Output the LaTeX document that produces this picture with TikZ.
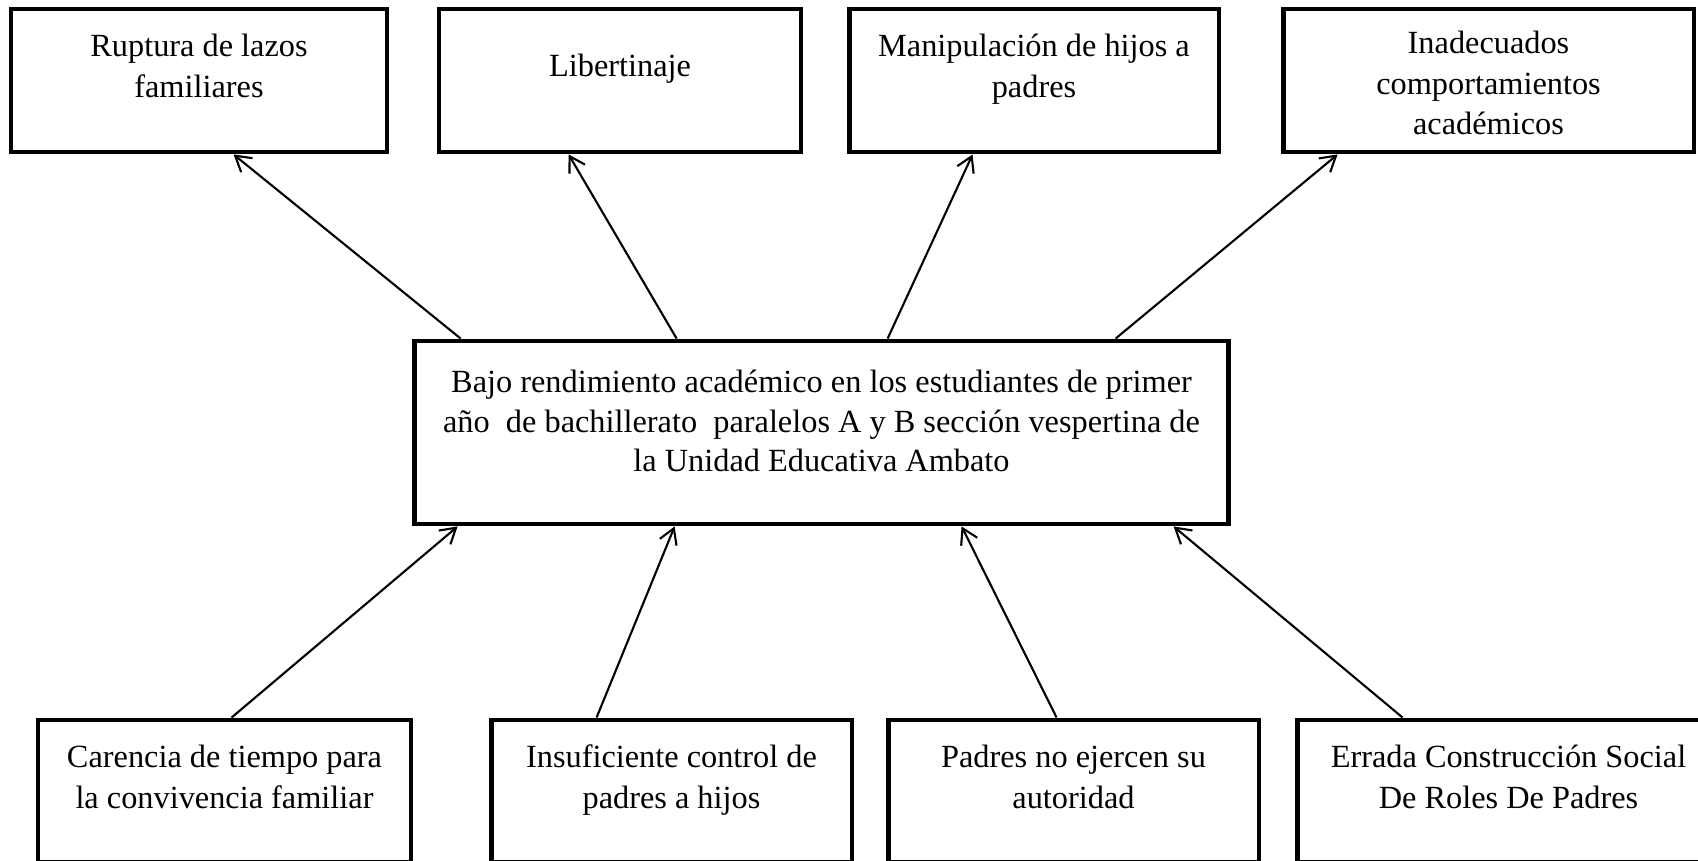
\documentclass[tikz,border=0pt]{standalone}
\usepackage{fontspec}
\setmainfont{Liberation Serif}
\usetikzlibrary{positioning}
\usetikzlibrary{calc}
\usetikzlibrary{arrows.meta}

\tikzset{
	caja/.style={draw, line width=2.8pt, inner sep=0pt, minimum height=2.86cm},
	texto/.style={anchor=north, align=center, inner sep=0pt, font=\fontsize{18.4}{23.2}\selectfont, yshift=-0.54cm},
	flecha/.style={line width=1.2pt, -{Straight Barb[length=0.3cm, width=0.36cm]}}
}

\begin{document}
\begin{tikzpicture}[x=0.02cm, y=-0.02cm]
		\useasboundingbox (0,0) rectangle (1698,861);
		% problema central
		\node [caja, minimum width=16.3cm, minimum height=3.66cm, label={[texto, yshift=-0.08cm, font=\fontsize{18.4}{22.6}\selectfont]north:{Bajo rendimiento académico en los estudiantes de primer\\año\ \ de bachillerato\ \ paralelos A y B sección vespertina de\\la Unidad Educativa Ambato}}] at (821.5,432.5) (centro) {};
		% efectos
		\node [caja, minimum width=7.52cm, label={[texto]north:{Ruptura de lazos\\familiares}}] at (199,80.5) (ruptura) {};
		\node [caja, minimum width=7.24cm, label={[texto, yshift=-0.4cm]north:{Libertinaje}}] at (620,80.5) (libertin) {};
		\node [caja, minimum width=7.40cm, label={[texto]north:{Manipulación de hijos a\\padres}}] at (1034,80.5) (manipula) {};
		\node [caja, minimum width=8.22cm, label={[texto, yshift=0.06cm]north:{Inadecuados\\comportamientos\\académicos}}] at (1488.5,80.5) (inadecua) {};
		% causas
		\node [caja, minimum width=7.46cm, minimum height=2.84cm, label={[texto]north:{Carencia de tiempo para\\la convivencia familiar}}] at (224.5,791) (carencia) {};
		\node [caja, minimum width=7.22cm, minimum height=2.84cm, label={[texto]north:{Insuficiente control de\\padres a hijos}}] at (671.5,791) (insufici) {};
		\node [caja, minimum width=7.42cm, minimum height=2.84cm, label={[texto]north:{Padres no ejercen su\\autoridad}}] at (1073.5,791) (padresno) {};
		\node [caja, minimum width=8.46cm, minimum height=2.84cm, label={[texto]north:{Errada Construcción Social\\De Roles De Padres}}] at (1508.5,791) (errada) {};
		% flechas hacia los efectos
		\draw [flecha] ($(centro.north west)+(49,0)$) -- ($(ruptura.south west)+(225,0)$);
		\draw [flecha] ($(centro.north west)+(265,0)$) -- ($(libertin.south west)+(132,0)$);
		\draw [flecha] ($(centro.north west)+(476,0)$) -- ($(manipula.south west)+(126,0)$);
		\draw [flecha] ($(centro.north west)+(704,0)$) -- ($(inadecua.south west)+(57,0)$);
		% flechas desde las causas
		\draw [flecha] ($(carencia.north west)+(196,0)$) -- ($(centro.south west)+(46,0)$);
		\draw [flecha] ($(insufici.north west)+(108,0)$) -- ($(centro.south west)+(263,0)$);
		\draw [flecha] ($(padresno.north west)+(171,0)$) -- ($(centro.south west)+(550,0)$);
		\draw [flecha] ($(errada.north west)+(108,0)$) -- ($(centro.south west)+(762,0)$);
		\end{tikzpicture}
\end{document}
